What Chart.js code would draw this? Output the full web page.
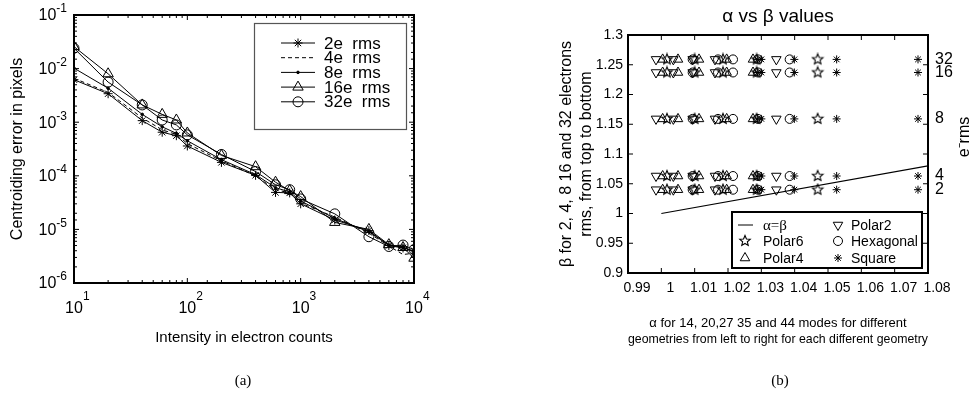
<!DOCTYPE html>
<html>
<head>
<meta charset="utf-8">
<script src="https://cdn.jsdelivr.net/npm/chart.js@4.4.0/dist/chart.umd.min.js"></script>
<style>
  body { margin: 0; background: #fff; width: 972px; height: 394px; position: relative; overflow: hidden; }
  #boxA { position: absolute; left: 0; top: 0; width: 450px; height: 394px; }
  #boxB { position: absolute; left: 450px; top: 0; width: 522px; height: 394px; }
  .cap { position: absolute; top: 372px; width: 60px; text-align: center; font: 15px "Liberation Serif", serif; }
</style>
</head>
<body>
<div id="boxA"><canvas id="chartA" width="450" height="394"></canvas></div>
<div id="boxB"><canvas id="chartB" width="522" height="394"></canvas></div>
<div class="cap" style="left:213px">(a)</div>
<div class="cap" style="left:750px">(b)</div>
<script>
// Datos del panel (a): error de centroide vs intensidad
const intensity = [10, 20, 40, 60, 80, 100, 200, 400, 600, 800, 1000, 2000, 4000, 6000, 8000, 10000];
const err2e  = [6.2e-3, 3.4e-3, 1.07e-3, 6.5e-4, 5.6e-4, 3.6e-4, 1.78e-4, 1.02e-4, 4.9e-5, 4.8e-5, 3.0e-5, 1.5e-5, 9.5e-6, 5.0e-6, 4.5e-6, 4.0e-6];
const err4e  = [6.6e-3, 3.6e-3, 1.2e-3, 7.2e-4, 5.9e-4, 4.0e-4, 1.9e-4, 1.0e-4, 5.5e-5, 4.8e-5, 3.1e-5, 1.7e-5, 8.5e-6, 4.9e-6, 3.4e-6, 3.6e-6];
const err8e  = [1.02e-2, 4.3e-3, 1.4e-3, 8.2e-4, 6.2e-4, 4.5e-4, 2.0e-4, 1.05e-4, 6.0e-5, 5.0e-5, 3.4e-5, 1.6e-5, 9.0e-6, 5.1e-6, 4.7e-6, 3.8e-6];
const err16e = [2.57e-2, 8.0e-3, 2.1e-3, 1.4e-3, 1.1e-3, 6.3e-4, 2.4e-4, 1.48e-4, 7.6e-5, 5.3e-5, 4.1e-5, 1.35e-5, 1.0e-5, 5.2e-6, 4.6e-6, 2.9e-6];
const err32e = [2.4e-2, 5.6e-3, 2.1e-3, 1.1e-3, 8.9e-4, 5.8e-4, 2.5e-4, 1.2e-4, 6.8e-5, 5.5e-5, 3.7e-5, 1.95e-5, 7.3e-6, 4.8e-6, 5.1e-6, 4.2e-6];

// Datos del panel (b): alpha por geometría (modos 14, 20, 27, 35, 44) y beta por ruido
const noiseLevels = [2, 4, 8, 16, 32];
const betaValues = [1.040, 1.063, 1.159, 1.237, 1.259];
const alphaPolar2 = [0.9984, 1.0036, 1.0094, 1.0161, 1.0345];
const alphaPolar4 = [1.0004, 1.0050, 1.0113, 1.0196, 1.0275];
const alphaPolar6 = [1.0017, 1.0100, 1.0185, 1.0286, 1.0469];
const alphaHexagonal = [1.0094, 1.0170, 1.0215, 1.0290, 1.0385];
const alphaSquare = [1.0288, 1.0300, 1.0399, 1.0526, 1.0770];
const identityLine = [1.0, 1.08];

const SANS = '"Liberation Sans", Arial, sans-serif';
Chart.defaults.font.family = SANS;
Chart.defaults.color = '#000';

function isDecade(v) {
  const e = Math.log10(v);
  return Math.abs(e - Math.round(e)) < 1e-6;
}

// estrella de cinco puntas para Polar6
function makePentagram(r) {
  const c = document.createElement('canvas');
  const s = Math.ceil(2 * r + 3);
  c.width = c.height = s;
  const g = c.getContext('2d');
  g.strokeStyle = '#000';
  g.lineWidth = 1.1;
  g.beginPath();
  for (let i = 0; i < 10; i++) {
    const a = -Math.PI / 2 + i * Math.PI / 5;
    const rr = i % 2 ? r * 0.45 : r;
    g.lineTo(s / 2 + rr * Math.cos(a), s / 2 + rr * Math.sin(a));
  }
  g.closePath();
  g.stroke();
  return c;
}
const pentagram = makePentagram(5.5);

// Marco y marcas hacia adentro, estilo MATLAB
const framePlugin = {
  id: 'frame',
  afterDatasetsDraw(chart, args, opts) {
    const ctx = chart.ctx, a = chart.chartArea;
    ctx.save();
    ctx.strokeStyle = '#000';
    ctx.lineWidth = 1;
    ['x', 'y'].forEach(id => {
      const sc = chart.scales[id];
      sc.ticks.forEach(t => {
        const major = opts.log ? isDecade(t.value) : true;
        const len = major ? 5 : 3;
        const p = sc.getPixelForValue(t.value);
        ctx.beginPath();
        if (id === 'x') {
          ctx.moveTo(p, a.bottom); ctx.lineTo(p, a.bottom - len);
          ctx.moveTo(p, a.top); ctx.lineTo(p, a.top + len);
        } else {
          ctx.moveTo(a.left, p); ctx.lineTo(a.left + len, p);
          ctx.moveTo(a.right, p); ctx.lineTo(a.right - len, p);
        }
        ctx.stroke();
      });
    });
    ctx.lineWidth = opts.width || 2;
    ctx.strokeRect(a.left, a.top, a.width, a.height);
    ctx.restore();
  }
};

// Etiquetas 10^n con exponente elevado
const powLabels = {
  id: 'powLabels',
  afterDraw(chart) {
    const ctx = chart.ctx, a = chart.chartArea;
    ctx.save();
    ctx.fillStyle = '#000';
    ctx.textBaseline = 'middle';
    const base = '16px ' + SANS, sup = '12px ' + SANS;
    chart.scales.x.ticks.forEach(t => {
      if (!isDecade(t.value)) return;
      const p = chart.scales.x.getPixelForValue(t.value);
      const ex = String(Math.round(Math.log10(t.value)));
      ctx.font = base; ctx.textAlign = 'center';
      ctx.fillText('10', p, a.bottom + 26);
      const w = ctx.measureText('10').width;
      ctx.font = sup; ctx.textAlign = 'left';
      ctx.fillText(ex, p + w / 2, a.bottom + 14);
    });
    chart.scales.y.ticks.forEach(t => {
      if (!isDecade(t.value)) return;
      const p = chart.scales.y.getPixelForValue(t.value);
      const ex = String(Math.round(Math.log10(t.value)));
      ctx.font = sup; ctx.textAlign = 'right';
      const we = ctx.measureText(ex).width;
      ctx.fillText(ex, a.left - 7, p - 6);
      ctx.font = base;
      ctx.fillText('10', a.left - 7 - we, p + 1);
    });
    ctx.restore();
  }
};

function markerAt(ctx, ds, x, y) {
  ctx.strokeStyle = '#000';
  ctx.fillStyle = ds.pointBackgroundColor || 'rgba(0,0,0,0)';
  ctx.lineWidth = 1;
  if (ds.pointRadius > 0 || ds.pointStyle instanceof HTMLCanvasElement) {
    Chart.helpers.drawPoint(ctx, { pointStyle: ds.pointStyle, radius: ds.pointRadius, rotation: ds.pointRotation || 0, borderWidth: 1 }, x, y);
  }
}

const legendA = {
  id: 'legendA',
  afterDraw(chart) {
    const ctx = chart.ctx;
    ctx.save();
    ctx.fillStyle = '#fff';
    ctx.fillRect(254, 23, 152, 106);
    ctx.strokeStyle = '#555';
    ctx.lineWidth = 1.2;
    ctx.strokeRect(254.5, 23.5, 152, 106);
    ctx.font = '17px ' + SANS;
    ctx.textBaseline = 'middle';
    chart.data.datasets.forEach((ds, i) => {
      const y = 43 + i * 14.7;
      ctx.strokeStyle = '#000';
      ctx.lineWidth = 1;
      ctx.setLineDash(ds.borderDash || []);
      ctx.beginPath(); ctx.moveTo(281, y); ctx.lineTo(315, y); ctx.stroke();
      ctx.setLineDash([]);
      markerAt(ctx, ds, 298, y);
      ctx.fillStyle = '#000';
      ctx.fillText(ds.label, 324, y + 1);
    });
    ctx.restore();
  }
};

const legendB = {
  id: 'legendB',
  afterDraw(chart) {
    const ctx = chart.ctx;
    ctx.save();
    ctx.fillStyle = '#fff';
    ctx.fillRect(282, 212, 190, 56);
    ctx.strokeStyle = '#000';
    ctx.lineWidth = 2;
    ctx.strokeRect(282, 212, 190, 56);
    ctx.textBaseline = 'middle';
    const ds = chart.data.datasets;
    const slots = [[295, 225, 18], [295, 241, 18], [295, 258, 18], [388, 225, 13], [388, 241, 13], [388, 258, 13]];
    const order = [5, 2, 1, 0, 3, 4];
    order.forEach((k, i) => {
      const [x, y, gap] = slots[i];
      const d = ds[k];
      if (d.showLine) {
        ctx.strokeStyle = '#000'; ctx.lineWidth = 1;
        ctx.beginPath(); ctx.moveTo(288, y); ctx.lineTo(303, y); ctx.stroke();
        ctx.font = '15px "Liberation Serif", serif';
      } else {
        markerAt(ctx, d, x, y);
        ctx.font = '14px ' + SANS;
      }
      ctx.fillStyle = '#000';
      ctx.fillText(d.label, x + gap, y + 1);
    });
    ctx.restore();
  }
};

const eRmsLabel = {
  id: 'eRms',
  afterDraw(chart) {
    const ctx = chart.ctx;
    ctx.save();
    ctx.translate(515, 137);
    ctx.rotate(-Math.PI / 2);
    ctx.font = '16px ' + SANS;
    ctx.textAlign = 'center';
    ctx.textBaseline = 'middle';
    ctx.fillStyle = '#000';
    ctx.fillText('e\u207Brms', 0, 0);
    ctx.restore();
  }
};

// Panel (a)
const pts = arr => intensity.map((x, i) => ({ x: x, y: arr[i] }));
new Chart(document.getElementById('chartA'), {
  type: 'line',
  data: {
    datasets: [
      { label: '2e  rms', data: pts(err2e), borderColor: '#000', borderWidth: 1, pointStyle: 'star', pointRadius: 4.5, pointBorderColor: '#000', pointBackgroundColor: 'rgba(0,0,0,0)' },
      { label: '4e  rms', data: pts(err4e), borderColor: '#000', borderWidth: 1, borderDash: [4, 3], pointRadius: 0 },
      { label: '8e  rms', data: pts(err8e), borderColor: '#000', borderWidth: 1, pointStyle: 'circle', pointRadius: 1.3, pointBorderColor: '#000', pointBackgroundColor: '#000' },
      { label: '16e  rms', data: pts(err16e), borderColor: '#000', borderWidth: 1, pointStyle: 'triangle', pointRadius: 6, pointBorderColor: '#000', pointBackgroundColor: 'rgba(0,0,0,0)' },
      { label: '32e  rms', data: pts(err32e), borderColor: '#000', borderWidth: 1, pointStyle: 'circle', pointRadius: 5, pointBorderColor: '#000', pointBackgroundColor: 'rgba(0,0,0,0)' }
    ]
  },
  options: {
    responsive: false,
    animation: false,
    events: [],
    layout: { padding: { left: 0, right: 36, top: 15, bottom: 46 } },
    plugins: { legend: { display: false }, tooltip: { enabled: false }, frame: { log: true, width: 2 } },
    scales: {
      x: {
        type: 'logarithmic', min: 10, max: 10000,
        grid: { display: false, drawTicks: false },
        border: { display: false },
        ticks: { display: false, autoSkip: false },
        title: { display: true, text: 'Intensity in electron counts', font: { size: 15 }, padding: { top: 0, bottom: 1 } },
        afterFit: s => { s.height = 65; }
      },
      y: {
        type: 'logarithmic', min: 1e-6, max: 1e-1,
        grid: { display: false, drawTicks: false },
        border: { display: false },
        ticks: { display: false, autoSkip: false },
        title: { display: true, text: 'Centroiding error in pixels', font: { size: 16 }, padding: { top: 8, bottom: 0 } },
        afterFit: s => { s.width = 74; }
      }
    }
  },
  plugins: [framePlugin, powLabels, legendA]
});

// Panel (b)
const rows = alphas => {
  const out = [];
  betaValues.forEach(b => alphas.forEach(a => out.push({ x: a, y: b })));
  return out;
};
const mk = { borderColor: '#000', pointBorderColor: '#000', pointBackgroundColor: 'rgba(0,0,0,0)', pointBorderWidth: 1, showLine: false };
new Chart(document.getElementById('chartB'), {
  type: 'scatter',
  data: {
    datasets: [
      Object.assign({ label: 'Polar2', data: rows(alphaPolar2), pointStyle: 'triangle', pointRotation: 180, pointRadius: 5.5 }, mk),
      Object.assign({ label: 'Polar4', data: rows(alphaPolar4), pointStyle: 'triangle', pointRadius: 5.5 }, mk),
      Object.assign({ label: 'Polar6', data: rows(alphaPolar6), pointStyle: pentagram, pointRadius: 5.5 }, mk),
      Object.assign({ label: 'Hexagonal', data: rows(alphaHexagonal), pointStyle: 'circle', pointRadius: 4.5 }, mk),
      Object.assign({ label: 'Square', data: rows(alphaSquare), pointStyle: 'star', pointRadius: 4 }, mk),
      { label: '\u03B1=\u03B2', type: 'line', data: identityLine.map(v => ({ x: v, y: v })), showLine: true, borderColor: '#000', borderWidth: 1.2, pointRadius: 0 }
    ]
  },
  options: {
    responsive: false,
    animation: false,
    events: [],
    layout: { padding: { left: 100, right: 0, top: 0, bottom: 41 } },
    plugins: {
      legend: { display: false },
      tooltip: { enabled: false },
      frame: { log: false, width: 2 },
      title: { display: true, fullSize: false, text: '\u03B1 vs \u03B2 values', font: { size: 19, weight: 'normal' }, padding: { top: 5, bottom: 7.2 } }
    },
    scales: {
      x: {
        type: 'linear', min: 0.99, max: 1.08,
        grid: { display: false, drawTicks: false },
        border: { display: false },
        ticks: { stepSize: 0.01, autoSkip: false, maxRotation: 0, padding: 7, labelOffset: 9, font: { size: 14 }, callback: v => String(Number(v.toFixed(2))) },
        title: {
          display: true,
          text: ['\u03B1 for 14, 20,27 35 and 44 modes for different', 'geometries from left to right for each different geometry'],
          font: { size: 13, lineHeight: 1.25 }, padding: { top: 0, bottom: 5 }
        },
        afterFit: s => { s.height = 80; }
      },
      y: {
        type: 'linear', min: 0.9, max: 1.3,
        grid: { display: false, drawTicks: false },
        border: { display: false },
        ticks: { stepSize: 0.05, autoSkip: false, padding: 5, font: { size: 14 }, callback: v => String(Number(v.toFixed(2))) },
        title: {
          display: true,
          text: ['\u03B2 for 2, 4, 8 16 and 32 electrons', 'rms, from top to bottom'],
          font: { size: 16, lineHeight: 1.25 }, padding: { top: 7, bottom: 0 }
        },
        afterFit: s => { s.width = 78; }
      },
      y2: {
        type: 'linear', position: 'right', min: 0.9, max: 1.3,
        grid: { display: false, drawTicks: false },
        border: { display: false },
        afterBuildTicks: s => { s.ticks = betaValues.map(v => ({ value: v })); },
        ticks: { autoSkip: false, padding: 7, font: { size: 16 }, callback: (v, i) => String(noiseLevels[i]) },
        afterFit: s => { s.width = 44; }
      }
    }
  },
  plugins: [framePlugin, legendB, eRmsLabel]
});
</script>
</body>
</html>
